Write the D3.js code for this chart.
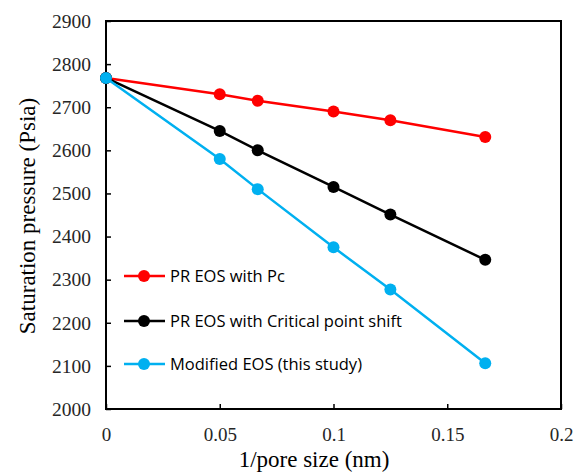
<!DOCTYPE html>
<html>
<head>
<meta charset="utf-8">
<script src="https://cdn.jsdelivr.net/npm/d3@7"></script>
<style>
  html, body { margin: 0; padding: 0; background: #fff; }
  svg { display: block; }
</style>
</head>
<body>
<svg id="chart" width="576" height="472"></svg>
<script>
// Inverse pore size (1/nm) for 20, 15, 10, 8 and 6 nm pores, plus bulk (0)
const invPoreSize = [0, 0.05, 0.0667, 0.1, 0.125, 0.1667];

// Saturation pressure (psia) for each model
const prPc       = [2768, 2730, 2715, 2690, 2670, 2631];
const prShift    = [2768, 2645, 2600, 2515, 2451, 2346];
const modified   = [2768, 2580, 2510, 2375, 2277, 2106];

const seriesNames  = ["PR EOS with Pc", "PR EOS with Critical point shift", "Modified EOS (this study)"];
const seriesColors = ["#ff0000", "#000000", "#00b0f0"];

const xTicks = [0, 0.05, 0.1, 0.15, 0.2];
const yTicks = [2000, 2100, 2200, 2300, 2400, 2500, 2600, 2700, 2800, 2900];

const svg = d3.select("#chart");
const plotLeft = 106, plotRight = 561, plotTop = 21, plotBottom = 409;

const x = d3.scaleLinear().domain([0, 0.2]).range([plotLeft, plotRight]);
const y = d3.scaleLinear().domain([2000, 2900]).range([plotBottom, plotTop]);

const tickColor = "#262626";
const serif = "'Liberation Serif', 'Times New Roman', serif";

// Plot frame
svg.append("rect")
  .attr("x", plotLeft).attr("y", plotTop)
  .attr("width", plotRight - plotLeft).attr("height", plotBottom - plotTop)
  .attr("fill", "none").attr("stroke", "#000").attr("stroke-width", 2);

// Axes with inward ticks
const yAxis = svg.append("g")
  .attr("transform", `translate(${plotLeft},0)`)
  .call(d3.axisLeft(y).tickValues(yTicks).tickSizeInner(-5).tickSizeOuter(0).tickPadding(15).tickFormat(d3.format("d")));
yAxis.select(".domain").remove();
yAxis.selectAll("line").attr("stroke", "#000").attr("stroke-width", 1.5);
yAxis.selectAll("text").attr("font-family", serif).attr("font-size", 19.5).attr("fill", tickColor);

const xAxis = svg.append("g")
  .attr("transform", `translate(0,${plotBottom})`)
  .call(d3.axisBottom(x).tickValues(xTicks).tickSizeInner(-5).tickSizeOuter(0).tickPadding(19)
    .tickFormat(d => d === 0 ? "0" : d3.format("")(d)));
xAxis.select(".domain").remove();
xAxis.selectAll("line").attr("stroke", "#000").attr("stroke-width", 1.5);
xAxis.selectAll("text").attr("font-family", serif).attr("font-size", 19).attr("fill", tickColor);

// Axis titles
svg.append("text")
  .attr("x", 314).attr("y", 467)
  .attr("text-anchor", "middle")
  .attr("font-family", serif).attr("font-size", 23).attr("fill", "#000")
  .text("1/pore size (nm)");

svg.append("text")
  .attr("transform", `translate(35,216) rotate(-90)`)
  .attr("text-anchor", "middle")
  .attr("font-family", serif).attr("font-size", 23).attr("fill", "#000")
  .text("Saturation pressure (Psia)");

// Series lines and markers
const allSeries = [prPc, prShift, modified];
const line = d3.line().x((d, i) => x(invPoreSize[i])).y(d => y(d));

allSeries.forEach((vals, k) => {
  const g = svg.append("g");
  g.append("path")
    .datum(vals)
    .attr("d", line)
    .attr("fill", "none")
    .attr("stroke", seriesColors[k])
    .attr("stroke-width", 2.5);
  g.selectAll("circle")
    .data(vals)
    .join("circle")
    .attr("cx", (d, i) => x(invPoreSize[i]))
    .attr("cy", d => y(d))
    .attr("r", 6)
    .attr("fill", seriesColors[k]);
});

// Legend
const legendY = [276, 321, 364];
seriesNames.forEach((name, k) => {
  const g = svg.append("g").attr("transform", `translate(124,${legendY[k]})`);
  g.append("line").attr("x1", 0).attr("x2", 41).attr("y1", 0).attr("y2", 0)
    .attr("stroke", seriesColors[k]).attr("stroke-width", 2.5);
  g.append("circle").attr("cx", 20).attr("cy", 0).attr("r", 6).attr("fill", seriesColors[k]);
  g.append("text").attr("x", 46).attr("y", 0).attr("dy", "0.35em")
    .attr("font-family", "'Open Sans', sans-serif").attr("font-size", 16.5)
    .attr("fill", "#000").text(name);
});
</script>
</body>
</html>
